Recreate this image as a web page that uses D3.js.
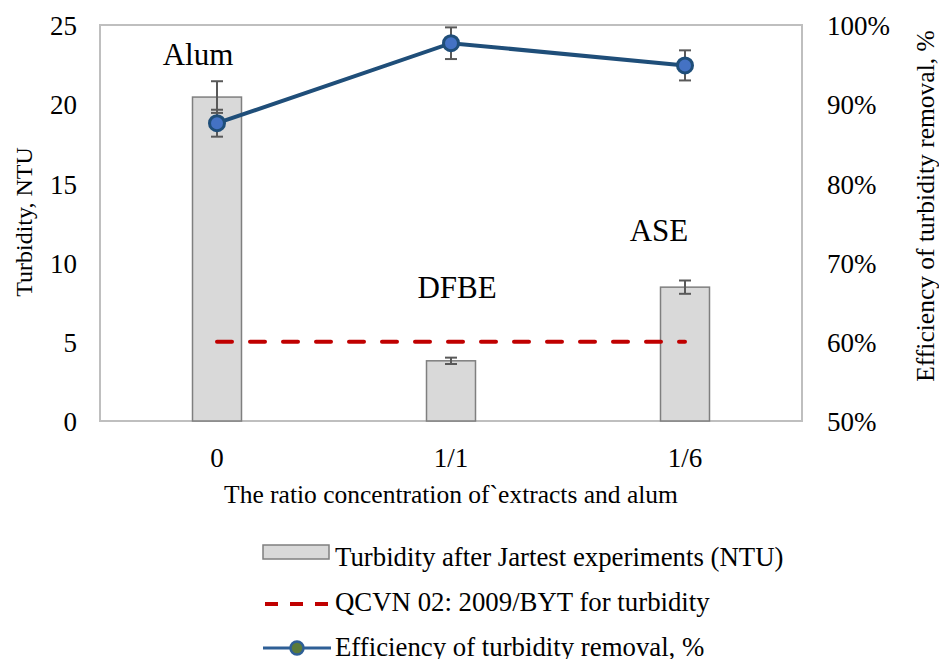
<!DOCTYPE html>
<html>
<head>
<meta charset="utf-8">
<script src="https://cdn.jsdelivr.net/npm/d3@7"></script>
<style>
  body { margin: 0; background: #fff; }
</style>
</head>
<body>
<div id="chart"></div>
<script>
// data
var categories = ["0", "1/1", "1/6"];
var groupLabels = ["Alum", "DFBE", "ASE"];
var turbidity = [20.45, 3.8, 8.45];
var turbidityErr = [1.0, 0.2, 0.42];
var efficiency = [0.876, 0.977, 0.949];
var efficiencyErr = [0.017, 0.02, 0.019];
var standardLimit = 5;
var leftTicks = [0, 5, 10, 15, 20, 25];
var rightTicks = [0.5, 0.6, 0.7, 0.8, 0.9, 1.0];
var legendLabels = ["Turbidity after Jartest experiments (NTU)",
                    "QCVN 02: 2009/BYT for turbidity",
                    "Efficiency of turbidity removal, %"];

var FONT = "'Liberation Serif', 'Times New Roman', serif";

function init() {
    var w = 939, h = 659;
    var m = {left: 100, top: 25, right: 137, bottom: 238};
    var iw = w - m.left - m.right, ih = h - m.top - m.bottom;

    var svg = d3.select("#chart").append("svg")
                .attr("width", w).attr("height", h)
                .style("font-family", FONT);

    var x = d3.scaleBand().domain(categories).range([m.left, m.left + iw]);
    var y = d3.scaleLinear().domain([0, 25]).range([m.top + ih, m.top]);
    var y2 = d3.scaleLinear().domain([0.5, 1.0]).range([m.top + ih, m.top]);
    var cx = function(i) { return x(categories[i]) + x.bandwidth() / 2; };
    var barW = 49;

    //plot frame
    svg.append("rect")
        .attr("x", m.left).attr("y", m.top)
        .attr("width", iw).attr("height", ih)
        .attr("fill", "none").attr("stroke", "#bfbfbf").attr("stroke-width", 2);

    //left axis
    var yAxis = svg.append("g")
        .attr("transform", "translate(" + (m.left - 23) + ",1)")
        .call(d3.axisLeft(y).tickValues(leftTicks).tickSize(0).tickPadding(0));
    yAxis.select(".domain").remove();

    //right axis
    var y2Axis = svg.append("g")
        .attr("transform", "translate(" + (m.left + iw + 25) + ",1)")
        .call(d3.axisRight(y2).tickValues(rightTicks).tickSize(0).tickPadding(0)
              .tickFormat(d3.format(".0%")));
    y2Axis.select(".domain").remove();

    //x axis labels
    var xAxis = svg.append("g")
        .attr("transform", "translate(0," + (m.top + ih + 27) + ")")
        .call(d3.axisBottom(x).tickSize(0).tickPadding(0));
    xAxis.select(".domain").remove();

    [yAxis, y2Axis, xAxis].forEach(function(a) {
        a.attr("font-family", null).attr("font-size", null);
        a.selectAll("text").style("font-family", FONT).style("font-size", "27px").attr("fill", "#000");
    });

    //axis titles
    svg.append("text")
        .attr("x", m.left + iw / 2).attr("y", 503)
        .attr("text-anchor", "middle").style("font-size", "25.5px")
        .text("The ratio concentration of`extracts and alum");
    svg.append("text")
        .attr("transform", "translate(32,222) rotate(-90)")
        .attr("text-anchor", "middle").style("font-size", "24px")
        .text("Turbidity, NTU");
    svg.append("text")
        .attr("transform", "translate(934,206) rotate(-90)")
        .attr("text-anchor", "middle").style("font-size", "25.5px")
        .text("Efficiency of turbidity removal, %");

    //bars
    svg.selectAll(".bar")
        .data(turbidity)
        .enter().append("rect")
        .attr("class", "bar")
        .attr("x", function(d, i) { return cx(i) - barW / 2; })
        .attr("y", function(d) { return y(d); })
        .attr("width", barW)
        .attr("height", function(d) { return y(0) - y(d); })
        .attr("fill", "#d9d9d9").attr("stroke", "#7f7f7f").attr("stroke-width", 1.5);

    //error bars helper
    function errBars(vals, errs, scale, cls) {
        var g = svg.append("g").attr("class", cls)
                   .attr("stroke", "#595959").attr("stroke-width", 2);
        vals.forEach(function(v, i) {
            var x0 = cx(i), top = scale(v + errs[i]), bot = scale(v - errs[i]);
            g.append("line").attr("x1", x0).attr("x2", x0).attr("y1", top).attr("y2", bot);
            g.append("line").attr("x1", x0 - 6).attr("x2", x0 + 6).attr("y1", top).attr("y2", top);
            g.append("line").attr("x1", x0 - 6).attr("x2", x0 + 6).attr("y1", bot).attr("y2", bot);
        });
    }
    errBars(turbidity, turbidityErr, y, "barErr");

    //standard limit line
    svg.append("line")
        .attr("x1", cx(0)).attr("x2", cx(2))
        .attr("y1", y(standardLimit)).attr("y2", y(standardLimit))
        .attr("stroke", "#c00000").attr("stroke-width", 4)
        .attr("stroke-dasharray", "15,18").attr("stroke-linecap", "round");

    //efficiency line
    errBars(efficiency, efficiencyErr, y2, "lineErr");
    var line = d3.line()
        .x(function(d, i) { return cx(i); })
        .y(function(d) { return y2(d); });
    svg.append("path")
        .datum(efficiency)
        .attr("d", line)
        .attr("fill", "none").attr("stroke", "#1f4e79").attr("stroke-width", 4);
    svg.selectAll(".pt")
        .data(efficiency)
        .enter().append("circle")
        .attr("class", "pt")
        .attr("cx", function(d, i) { return cx(i); })
        .attr("cy", function(d) { return y2(d); })
        .attr("r", 7.5)
        .attr("fill", "#4472c4").attr("stroke", "#1f4e79").attr("stroke-width", 3);

    //group labels
    var labelPos = [[198, 65], [457, 298], [659, 241]];
    svg.selectAll(".grp")
        .data(groupLabels)
        .enter().append("text")
        .attr("class", "grp")
        .attr("x", function(d, i) { return labelPos[i][0]; })
        .attr("y", function(d, i) { return labelPos[i][1]; })
        .attr("text-anchor", "middle").style("font-size", "31px")
        .text(function(d) { return d; });

    //legend
    var lg = svg.append("g").attr("transform", "translate(263,0)");
    lg.append("rect").attr("x", 0).attr("y", 545).attr("width", 66).attr("height", 14)
        .attr("fill", "#d9d9d9").attr("stroke", "#7f7f7f").attr("stroke-width", 1.5);
    lg.append("line").attr("x1", 2).attr("x2", 68).attr("y1", 604).attr("y2", 604)
        .attr("stroke", "#c00000").attr("stroke-width", 4).attr("stroke-dasharray", "13,12");
    lg.append("line").attr("x1", 0).attr("x2", 68).attr("y1", 648).attr("y2", 648)
        .attr("stroke", "#2e5f96").attr("stroke-width", 3);
    lg.append("circle").attr("cx", 34).attr("cy", 648).attr("r", 6.5)
        .attr("fill", "#5b7a3a").attr("stroke", "#2e5f96").attr("stroke-width", 2.5);
    lg.selectAll(".lt")
        .data(legendLabels)
        .enter().append("text")
        .attr("class", "lt")
        .attr("x", 72)
        .attr("y", function(d, i) { return 566 + i * 45; })
        .style("font-size", "26.8px")
        .text(function(d) { return d; });
}

window.onload = init;
</script>
</body>
</html>
